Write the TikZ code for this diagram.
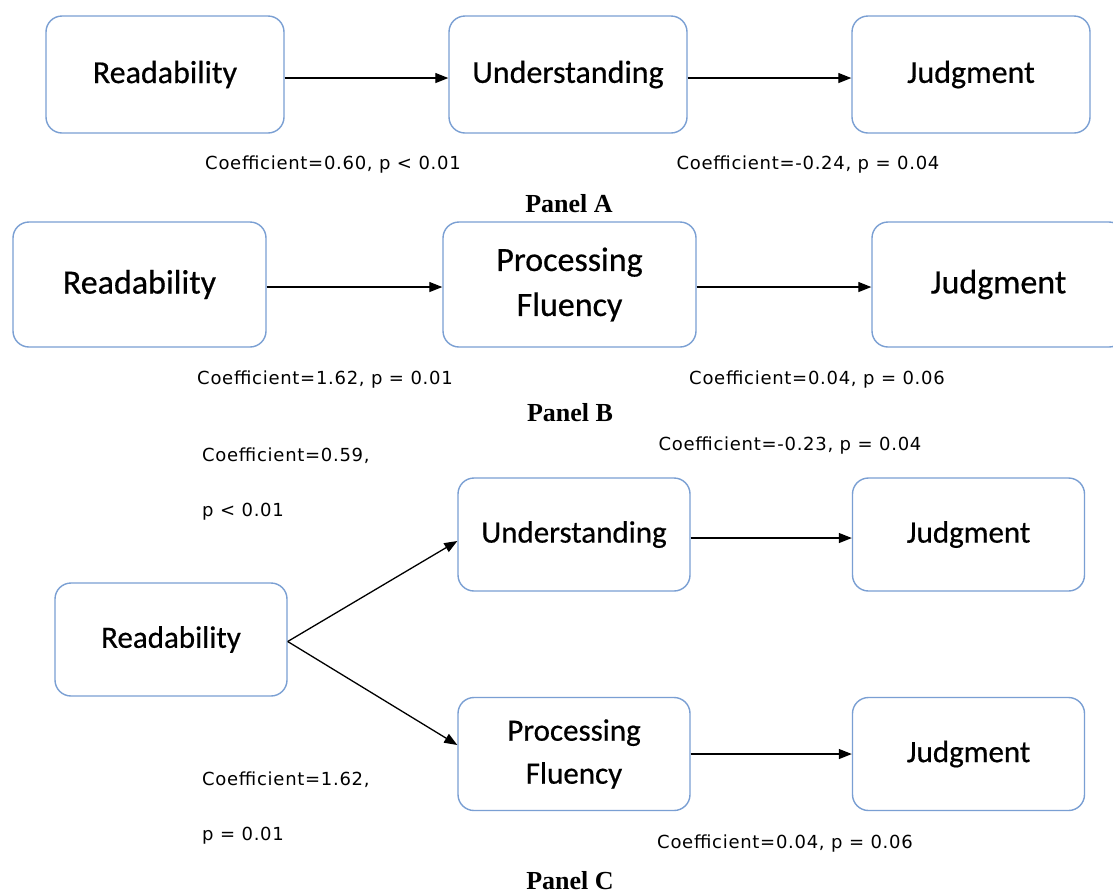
\documentclass[tikz,border=0pt]{standalone}
\usepackage{fontspec}
\usetikzlibrary{arrows.meta}
\setmainfont{Liberation Serif}
\newfontfamily\boxfont{Carlito}[FakeBold=0.5]
\newfontfamily\coeffont{DejaVu Sans}[LetterSpace=4]
\definecolor{boxblue}{HTML}{7A9FD3}
\tikzset{
  box/.style={draw=boxblue, line width=1.4pt, rounded corners=16pt, fill=white, align=center, inner sep=0pt},
  boxA/.style={box, minimum width=238pt, minimum height=117pt, font=\boxfont\fontsize{32}{38}\selectfont},
  boxB/.style={box, minimum width=253pt, minimum height=125pt, font=\boxfont\fontsize{34}{45}\selectfont},
  boxC/.style={box, minimum width=232pt, minimum height=113pt, font=\boxfont\fontsize{31}{43}\selectfont},
  coef/.style={font=\coeffont\fontsize{18}{22}\selectfont, inner sep=0pt},
  coefl/.style={coef, anchor=west},
  panel/.style={font=\bfseries\fontsize{26}{30}\selectfont, inner sep=0pt},
  arr/.style={line width=1.3pt, -{Triangle[length=13pt, width=10pt]}}
}
\begin{document}
\begin{tikzpicture}[x=1pt, y=-1pt]
\useasboundingbox[fill=white] (0,0) rectangle (1113,895);
\begin{scope}
\clip (0,0) rectangle (1113,895);
% Panel A
\node[boxA] (a1) at (165,74.5) {Readability};
\node[boxA] (a2) at (568,74.5) {Understanding};
\node[boxA] (a3) at (971,74.5) {Judgment};
\draw[arr] ([yshift=-3.5pt]a1.east) -- ([yshift=-3.5pt]a2.west);
\draw[arr] ([yshift=-3.5pt]a2.east) -- ([yshift=-3.5pt]a3.west);
\node[coef] (ca1) at (333,165) {Coefficient=0.60, p < 0.01};
\node[coef] (ca2) at (808,165) {Coefficient=-0.24, p = 0.04};
\node[panel] (pa) at (569,204) {Panel A};
% Panel B
\node[boxB] (b1) at (139.5,284.5) {Readability};
\node[boxB] (b2) at (569.5,284.5) {Processing\\Fluency};
\node[boxB] (b3) at (998.5,284.5) {Judgment};
\draw[arr] ([yshift=-2.5pt]b1.east) -- ([yshift=-2.5pt]b2.west);
\draw[arr] ([yshift=-2.5pt]b2.east) -- ([yshift=-2.5pt]b3.west);
\node[coef] (cb1) at (325,380) {Coefficient=1.62, p = 0.01};
\node[coef] (cb2) at (817,380) {Coefficient=0.04, p = 0.06};
\node[panel] (pb) at (570,413) {Panel B};
% Panel C
\node[boxC] (c1) at (171,639.5) {Readability};
\node[boxC] (c2) at (574,534.5) {Understanding};
\node[boxC] (c3) at (968.5,534.5) {Judgment};
\node[boxC] (c4) at (574,754) {Processing\\Fluency};
\node[boxC] (c5) at (968.5,754) {Judgment};
\coordinate (c1o) at ([yshift=-2pt]c1.east);
\draw[arr] (c1o) -- ([yshift=-6.5pt]c2.west);
\draw[arr] (c1o) -- ([yshift=9pt]c4.west);
\draw[arr] ([yshift=-3.5pt]c2.east) -- ([yshift=-3.5pt]c3.west);
\draw[arr] (c4.east) -- (c5.west);
\node[coefl] (cc1) at (202,456) {Coefficient=0.59,};
\node[coefl] (cc1b) at (202,512) {p < 0.01};
\node[coef] (cc2) at (790,446) {Coefficient=-0.23, p = 0.04};
\node[coefl] (cc3) at (202,780) {Coefficient=1.62,};
\node[coefl] (cc3b) at (202,836) {p = 0.01};
\node[coef] (cc4) at (785,844) {Coefficient=0.04, p = 0.06};
\node[panel] (pc) at (570,881) {Panel C};
\end{scope}
\end{tikzpicture}
\end{document}
